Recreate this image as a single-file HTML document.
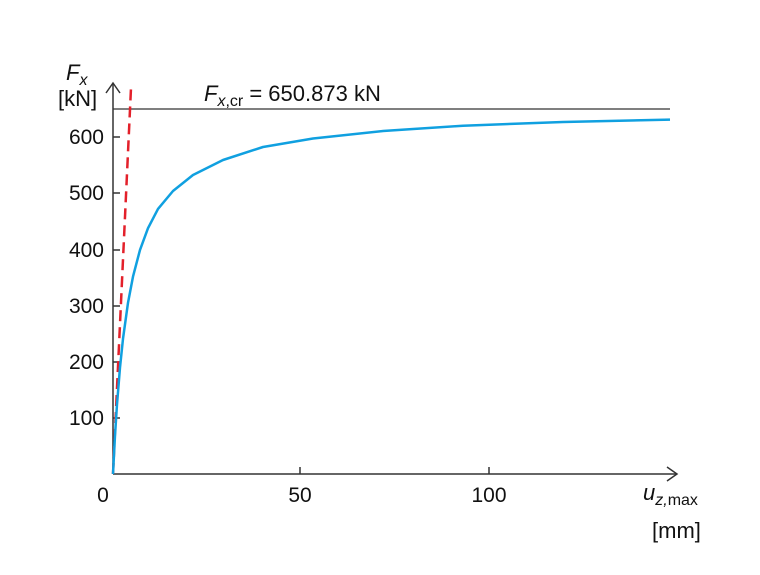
<!DOCTYPE html>
<html><head><meta charset="utf-8"><style>html,body{margin:0;padding:0;background:#fff}</style></head>
<body>
<svg width="760" height="570" viewBox="0 0 760 570" xmlns="http://www.w3.org/2000/svg" font-family="'Liberation Sans', sans-serif">
<rect width="760" height="570" fill="#fff"/>
<g stroke="#333" stroke-width="1.5" fill="none">
<line x1="113" y1="474" x2="113" y2="84"/>
<polyline points="106,93 113,83 120,93"/>
<line x1="113" y1="474" x2="676" y2="474"/>
<polyline points="667,467 677,474 667,481"/>
<line x1="113" y1="109" x2="670" y2="109" stroke-width="1.3"/>
<line x1="113" y1="418" x2="120" y2="418"/>
<line x1="113" y1="362" x2="120" y2="362"/>
<line x1="113" y1="306" x2="120" y2="306"/>
<line x1="113" y1="250" x2="120" y2="250"/>
<line x1="113" y1="193" x2="120" y2="193"/>
<line x1="113" y1="137" x2="120" y2="137"/>
<line x1="300" y1="474" x2="300" y2="467"/>
<line x1="489" y1="474" x2="489" y2="467"/>
</g>
<line x1="113" y1="474" x2="131" y2="88" stroke="#e3202a" stroke-width="2.5" stroke-dasharray="11,6"/>
<polyline fill="none" stroke="#10a0e0" stroke-width="2.5" stroke-linejoin="round" points="113,474 115,435.6 117,404.4 120,367.5 123,338.7 128,302.8 133,276.6 140,249.9 148,228.2 158,208.9 173,191 193,175 223,160 263,147 313,138.5 383,131 463,125.7 563,122 670,119.6"/>
<g font-size="21" fill="#111" text-anchor="end">
<text x="104" y="425">100</text>
<text x="104" y="369">200</text>
<text x="104" y="313">300</text>
<text x="104" y="257">400</text>
<text x="104" y="200">500</text>
<text x="104" y="144">600</text>
</g>
<g font-size="21" fill="#111" text-anchor="middle">
<text x="103" y="502">0</text>
<text x="300" y="502">50</text>
<text x="489" y="502">100</text>
</g>
<text x="66" y="80" font-size="22" font-style="italic" fill="#111">F<tspan font-size="16" dy="5">x</tspan></text>
<text x="58" y="106" font-size="22" fill="#111">[kN]</text>
<text x="204" y="101" font-size="22" fill="#111"><tspan font-style="italic">F</tspan><tspan font-size="16" dy="5"><tspan font-style="italic">x</tspan>,cr</tspan><tspan dy="-5"> = 650.873 kN</tspan></text>
<text x="643" y="500" font-size="22" font-style="italic" fill="#111">u<tspan font-size="16" dy="5">z,<tspan font-style="normal">max</tspan></tspan></text>
<text x="652" y="538" font-size="22" fill="#111">[mm]</text>
</svg>
</body></html>
